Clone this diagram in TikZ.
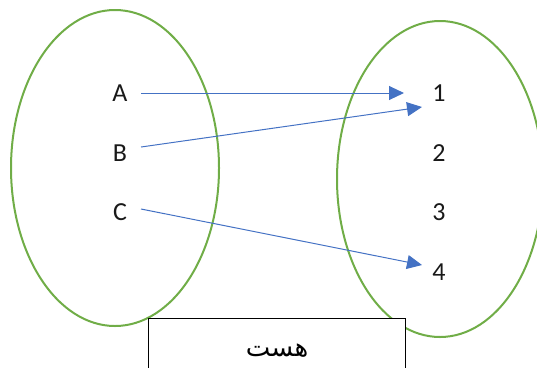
\documentclass[tikz,border=0pt]{standalone}
\usepackage{fontspec}
\setmainfont{Carlito}
\newfontfamily\arabicfont[Script=Arabic]{DejaVu Sans}
\TeXXeTstate=1
\usetikzlibrary{arrows.meta}
\definecolor{setgreen}{HTML}{70AD47}
\definecolor{arrblue}{HTML}{4472C4}
\tikzset{
  setoval/.style={draw=setgreen, line width=2bp},
  elem/.style={font=\fontsize{26bp}{30bp}\selectfont, inner sep=0pt, text=black!90},
  maparrow/.style={draw=arrblue, line width=1bp, -{Triangle[length=15bp,width=14bp]}},
  labelbox/.style={draw=black, fill=white, line width=0.8bp}
}
\begin{document}
\begin{tikzpicture}[x=1bp,y=-1bp]
\useasboundingbox (0,0) rectangle (537,367);
\draw[setoval] (115,168) ellipse [x radius=104, y radius=158];
\draw[setoval] (440,179) ellipse [x radius=103, y radius=158];
\node[labelbox, minimum width=257bp, minimum height=60bp, anchor=north west] (box) at (148,318) {};
\node[font=\arabicfont\fontsize{26bp}{30bp}\selectfont, inner sep=0pt] (word) at (277,351) {\beginR هست\endR};
\node[elem] (A) at (120,93) {A};
\node[elem] (B) at (120,153) {B};
\node[elem] (C) at (120,212) {C};
\node[elem] (n1) at (439,93) {1};
\node[elem] (n2) at (439,153) {2};
\node[elem] (n3) at (439,212) {3};
\node[elem] (n4) at (439,272) {4};
\coordinate (As) at (141,93);
\coordinate (Bs) at (141,147);
\coordinate (Cs) at (141,209);
\coordinate (Ae) at (404,93);
\coordinate (Be) at (422,107);
\coordinate (Ce) at (422,265);
\draw[maparrow] (As) -- (Ae);
\draw[maparrow] (Bs) -- (Be);
\draw[maparrow] (Cs) -- (Ce);
\end{tikzpicture}
\end{document}
